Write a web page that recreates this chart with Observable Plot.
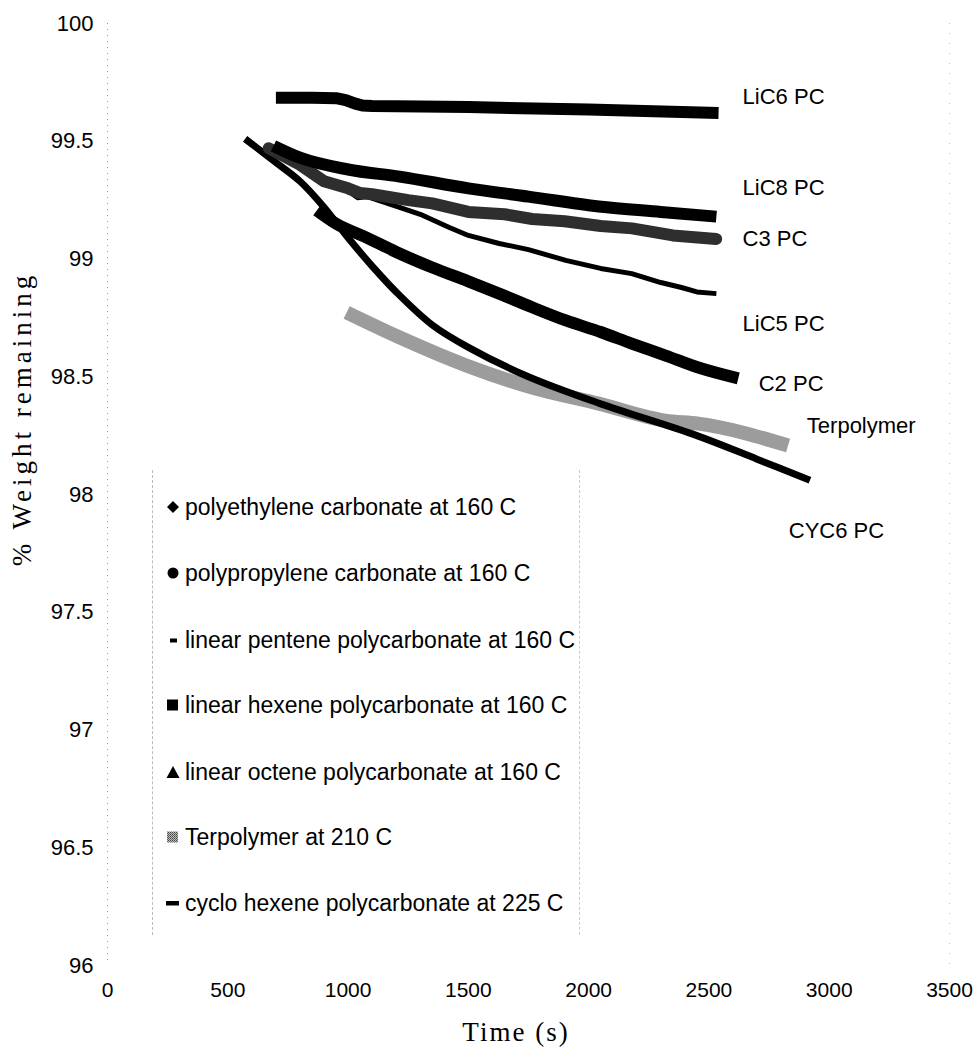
<!DOCTYPE html>
<html><head><meta charset="utf-8">
<script src="https://cdn.jsdelivr.net/npm/d3@7"></script>
<script src="https://cdn.jsdelivr.net/npm/@observablehq/plot@0.6"></script>
<style>
body{margin:0;background:#fff;}
#wrap{position:relative;width:974px;height:1048px;font-family:Arial,"Liberation Sans",sans-serif;color:#000;}
#wrap > svg{position:absolute;left:0;top:0;}
.ttl{position:absolute;font-family:"Liberation Serif","Times New Roman",serif;font-size:27px;white-space:nowrap;}
#legend{position:absolute;left:152px;top:470px;width:428px;height:465px;border-left:1px dashed #bbb;border-right:1px dashed #ccc;box-sizing:border-box;}
#legend .lg{position:absolute;left:0;height:30px;display:flex;align-items:center;font-size:23px;white-space:nowrap;}
#legend .lg svg{position:static;display:block;margin-left:13px;margin-right:5px;flex:none;}
</style></head><body><div id="wrap"></div>
<script>
// ---- data ----
const xTicks = [0, 500, 1000, 1500, 2000, 2500, 3000, 3500];
const yTicks = [96, 96.5, 97, 97.5, 98, 98.5, 99, 99.5, 100];

// polyethylene carbonate at 160 C (C2 PC)
const c2X = [870, 950, 1077, 1200, 1350, 1500, 1628, 1765, 1905, 2050, 2179, 2320, 2456, 2622];
const c2Y = [99.206, 99.15, 99.091, 99.03, 98.964, 98.905, 98.853, 98.795, 98.739, 98.69, 98.641, 98.59, 98.539, 98.493];

// polypropylene carbonate at 160 C (C3 PC)
const c3X = [670, 800, 900, 1000, 1050, 1100, 1250, 1350, 1500, 1650, 1765, 1900, 2050, 2180, 2350, 2530];
const c3Y = [99.47, 99.40, 99.33, 99.30, 99.28, 99.275, 99.25, 99.236, 99.20, 99.19, 99.17, 99.16, 99.14, 99.13, 99.10, 99.085];

// linear pentene polycarbonate at 160 C (LiC5 PC)
const c5X = [720, 850, 950, 1000, 1040, 1080, 1214, 1300, 1421, 1500, 1628, 1750, 1905, 2050, 2179, 2300, 2386, 2450, 2531];
const c5Y = [99.44, 99.37, 99.32, 99.29, 99.26, 99.265, 99.219, 99.19, 99.134, 99.10, 99.066, 99.04, 98.994, 98.96, 98.938, 98.90, 98.879, 98.86, 98.853];

// linear hexene polycarbonate at 160 C (LiC6 PC)
const c6X = [700, 850, 950, 990, 1030, 1060, 1100, 1500, 2000, 2540];
const c6Y = [99.685, 99.685, 99.683, 99.675, 99.66, 99.652, 99.65, 99.645, 99.635, 99.62];

// linear octene polycarbonate at 160 C (LiC8 PC)
const c8X = [690, 800, 1000, 1214, 1500, 1750, 2042, 2300, 2531];
const c8Y = [99.48, 99.43, 99.38, 99.35, 99.30, 99.265, 99.223, 99.20, 99.18];

// Terpolymer at 210 C
const terX = [994, 1214, 1491, 1765, 2042, 2319, 2456, 2829];
const terY = [98.773, 98.667, 98.548, 98.454, 98.386, 98.314, 98.301, 98.208];

// cyclo hexene polycarbonate at 225 C (CYC6 PC)
const cycX = [572, 700, 800, 900, 1000, 1100, 1200, 1350, 1500, 1750, 2050, 2450, 2700, 2920];
const cycY = [99.51, 99.41, 99.33, 99.22, 99.09, 98.97, 98.86, 98.72, 98.625, 98.50, 98.385, 98.25, 98.15, 98.06];

const legendNames = ["polyethylene carbonate at 160 C", "polypropylene carbonate at 160 C",
  "linear pentene polycarbonate at 160 C", "linear hexene polycarbonate at 160 C",
  "linear octene polycarbonate at 160 C", "Terpolymer at 210 C", "cyclo hexene polycarbonate at 225 C"];

const labelText = ["LiC6 PC", "LiC8 PC", "C3 PC", "LiC5 PC", "C2 PC", "Terpolymer", "CYC6 PC"];
const labelX = [2640, 2640, 2640, 2640, 2707, 2907, 2832];
const labelY = [99.686, 99.30, 99.087, 98.726, 98.471, 98.289, 97.847];

// ---- build ----
const toRows = (xs, ys) => xs.map((x, i) => ({x, y: ys[i]}));
const series = [
  {rows: toRows(terX, terY), stroke: "#9c9c9c", w: 14, cap: "butt", curve: "monotone-x"},
  {rows: toRows(cycX, cycY), stroke: "#000", w: 7, cap: "butt", curve: "catmull-rom"},
  {rows: toRows(c2X, c2Y), stroke: "#000", w: 12, cap: "butt", curve: "monotone-x"},
  {rows: toRows(c5X, c5Y), stroke: "#000", w: 5, cap: "butt", curve: "linear"},
  {rows: toRows(c3X, c3Y), stroke: "#2e2e2e", w: 12, cap: "round", curve: "linear"},
  {rows: toRows(c8X, c8Y), stroke: "#000", w: 12, cap: "butt", curve: "monotone-x"},
  {rows: toRows(c6X, c6Y), stroke: "#000", w: 12, cap: "butt", curve: "linear"}
];
const labels = labelText.map((t, i) => ({t, x: labelX[i], y: labelY[i]}));

const chart = Plot.plot({
  width: 974, height: 1048,
  marginLeft: 107, marginRight: 25, marginTop: 23, marginBottom: 83,
  style: {fontFamily: "Arial, 'Liberation Sans', sans-serif", fontSize: "22px", background: "#fff", color: "#000"},
  x: {domain: [0, 3500]},
  y: {domain: [96, 100]},
  marks: [
    Plot.ruleX([0], {stroke: "#999", strokeDasharray: "1,5", strokeWidth: 1}),
    Plot.ruleX([3500], {stroke: "#bbb", strokeDasharray: "1,9", strokeWidth: 1}),
    Plot.axisX({ticks: xTicks, tickSize: 0, tickPadding: 17, fontSize: 21, label: null, tickFormat: d => String(d)}),
    Plot.axisY({ticks: yTicks, tickSize: 0, tickPadding: 14, fontSize: 22, label: null, tickFormat: d => String(d)}),
    ...series.map(s => Plot.line(s.rows, {x: "x", y: "y", stroke: s.stroke, strokeWidth: s.w, strokeLinecap: s.cap, strokeLinejoin: "round", curve: s.curve})),
    Plot.text(labels, {x: "x", y: "y", text: "t", textAnchor: "start", fontSize: 22, fill: "#000"})
  ]
});
const wrap = document.getElementById("wrap");
wrap.appendChild(chart);

// axis titles
const xt = document.createElement("div");
xt.className = "ttl"; xt.textContent = "Time (s)";
xt.style.letterSpacing = "2px";
xt.style.left = "516px"; xt.style.top = "1032px"; xt.style.transform = "translate(-50%,-50%)";
wrap.appendChild(xt);
const yt = document.createElement("div");
yt.className = "ttl"; yt.textContent = "% Weight remaining";
yt.style.letterSpacing = "4px";
yt.style.left = "22px"; yt.style.top = "419px"; yt.style.transform = "translate(-50%,-50%) rotate(-90deg)";
wrap.appendChild(yt);

// legend
const markers = [
  '<svg width="14" height="14"><path d="M7 1 L13 7 L7 13 L1 7Z" fill="#000"/></svg>',
  '<svg width="14" height="14"><circle cx="7" cy="7" r="5.5" fill="#000"/></svg>',
  '<svg width="14" height="14"><rect x="4" y="5.5" width="7" height="4" fill="#000"/></svg>',
  '<svg width="14" height="14"><rect x="1" y="1.5" width="11" height="11" fill="#000"/></svg>',
  '<svg width="14" height="14"><path d="M7 1 L13.5 13 L0.5 13Z" fill="#000"/></svg>',
  '<svg width="14" height="14"><defs><pattern id="dith" width="2" height="2" patternUnits="userSpaceOnUse"><rect width="2" height="2" fill="#bbb"/><rect width="1" height="1" fill="#444"/><rect x="1" y="1" width="1" height="1" fill="#666"/></pattern></defs><rect x="1" y="1.5" width="11" height="11" fill="url(#dith)"/></svg>',
  '<svg width="14" height="14"><rect x="0" y="5" width="13" height="4.5" fill="#000"/></svg>'
];
const legendY = [37, 103, 170, 235, 302, 367, 433];
const lg = document.createElement("div");
lg.id = "legend";
legendNames.forEach((n, i) => {
  const row = document.createElement("div");
  row.className = "lg";
  row.style.top = (legendY[i] - 15) + "px";
  row.innerHTML = markers[i] + "<span>" + n + "</span>";
  lg.appendChild(row);
});
wrap.appendChild(lg);
</script>
</body></html>
